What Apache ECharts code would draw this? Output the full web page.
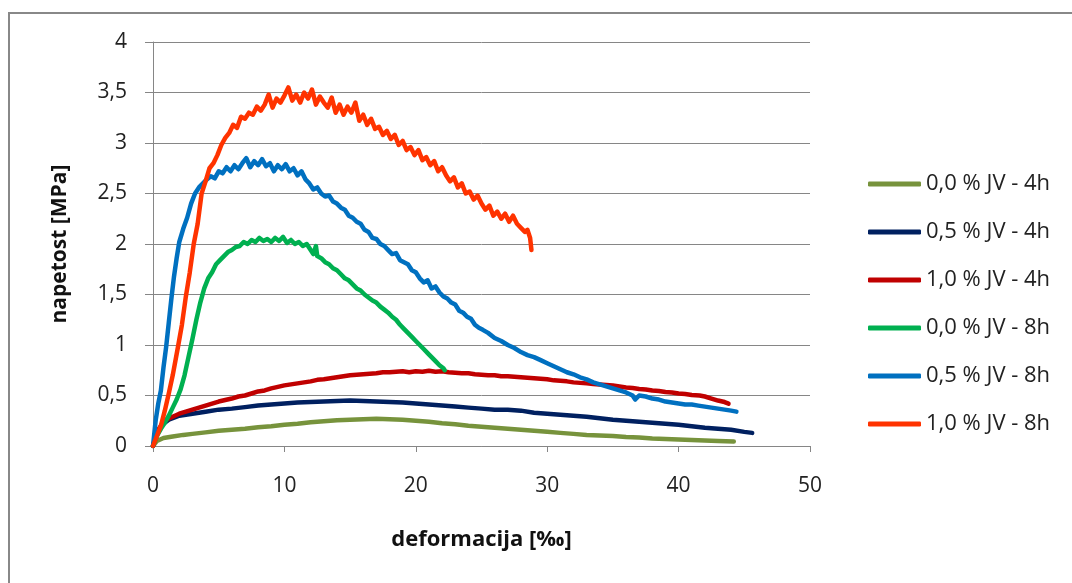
<!DOCTYPE html>
<html>
<head>
<meta charset="utf-8">
<script src="https://cdn.jsdelivr.net/npm/echarts@6/dist/echarts.min.js"></script>
<style>
html,body{margin:0;padding:0;background:#fff;}
#chart{width:1072px;height:583px;}
</style>
</head>
<body>
<div id="chart"></div>
<script>
// ---- Data (x = deformacija [‰], y = napetost [MPa]) ----
var seriesNames = ["0,0 % JV - 4h","0,5 % JV - 4h","1,0 % JV - 4h","0,0 % JV - 8h","0,5 % JV - 8h","1,0 % JV - 8h"];
var seriesColors = ["#77933C","#002060","#C00000","#00B050","#0070C0","#FF3300"];

var olive4h = [[0,0],[0.3,0.05],[0.8,0.08],[1.5,0.095],[2.3,0.11],[3,0.12],[4,0.135],[5,0.15],[6,0.16],[7,0.17],[8,0.185],[9,0.195],[10,0.21],[11,0.22],[12,0.235],[13,0.245],[14,0.255],[15,0.26],[16,0.265],[17,0.27],[18,0.265],[19,0.26],[20,0.25],[21,0.24],[22,0.225],[23,0.215],[24,0.2],[25,0.19],[26,0.18],[27,0.17],[28,0.16],[29,0.15],[30,0.14],[31,0.13],[32,0.12],[33,0.11],[34,0.105],[35,0.1],[36,0.09],[37,0.085],[38,0.075],[39,0.07],[40,0.065],[41,0.06],[42,0.055],[43,0.05],[44.2,0.045]];

var navy4h = [[0,0],[0.3,0.12],[0.7,0.21],[1.2,0.26],[2,0.3],[3,0.32],[4,0.34],[5,0.36],[6,0.37],[7,0.385],[8,0.4],[9,0.41],[10,0.42],[11,0.43],[12,0.435],[13,0.44],[14,0.445],[15,0.45],[16,0.445],[17,0.44],[18,0.435],[19,0.43],[20,0.42],[21,0.41],[22,0.4],[23,0.39],[24,0.38],[25,0.37],[26,0.36],[27,0.36],[28,0.35],[29,0.33],[30,0.32],[31,0.31],[32,0.3],[33,0.29],[34,0.275],[35,0.26],[36,0.25],[37,0.24],[38,0.23],[39,0.22],[40,0.21],[41,0.195],[42,0.18],[43,0.17],[44,0.16],[45,0.14],[45.6,0.13]];

var red4h = [[0,0],[0.2,0.1],[0.4,0.16],[0.7,0.22],[1,0.26],[1.5,0.29],[2,0.32],[2.5,0.34],[3,0.36],[3.5,0.38],[4,0.4],[4.5,0.42],[5,0.44],[5.5,0.455],[6,0.47],[6.5,0.49],[7,0.5],[7.5,0.52],[8,0.54],[8.5,0.55],[9,0.57],[9.5,0.585],[10,0.6],[10.5,0.61],[11,0.62],[11.5,0.63],[12,0.64],[12.5,0.655],[13,0.66],[13.5,0.67],[14,0.68],[14.5,0.69],[15,0.7],[15.5,0.705],[16,0.71],[16.5,0.715],[17,0.72],[17.5,0.73],[18,0.73],[18.5,0.735],[19,0.74],[19.5,0.73],[20,0.74],[20.5,0.735],[21,0.745],[21.5,0.735],[22,0.74],[22.5,0.73],[23,0.725],[23.5,0.72],[24,0.72],[24.5,0.71],[25,0.705],[25.5,0.7],[26,0.7],[26.5,0.69],[27,0.69],[27.5,0.685],[28,0.68],[28.5,0.675],[29,0.67],[29.5,0.665],[30,0.66],[30.5,0.65],[31,0.645],[31.5,0.64],[32,0.63],[32.5,0.625],[33,0.62],[33.5,0.615],[34,0.61],[34.5,0.605],[35,0.6],[35.5,0.59],[36,0.58],[36.5,0.575],[37,0.565],[37.5,0.56],[38,0.55],[38.5,0.545],[39,0.535],[39.5,0.53],[40,0.52],[40.5,0.515],[41,0.505],[41.6,0.5],[42,0.49],[42.5,0.47],[43,0.45],[43.5,0.435],[43.8,0.42]];

var green8h = [[0,0],[0.3,0.1],[0.6,0.17],[0.9,0.23],[1.2,0.3],[1.5,0.38],[1.8,0.46],[2.1,0.56],[2.4,0.7],[2.7,0.88],[3,1.06],[3.3,1.25],[3.6,1.42],[3.9,1.56],[4.2,1.66],[4.5,1.72],[4.8,1.8],[5.1,1.84],[5.4,1.88],[5.7,1.92],[6,1.94],[6.3,1.97],[6.6,1.98],[6.9,2.02],[7.2,2],[7.5,2.04],[7.8,2.02],[8.1,2.06],[8.4,2.03],[8.7,2.05],[9,2.02],[9.3,2.06],[9.6,2.03],[9.9,2.07],[10.2,2.01],[10.5,2.04],[10.8,2],[11.1,2.02],[11.4,1.98],[11.7,2],[12,1.94],[12.2,1.9],[12.4,1.98],[12.5,1.88],[12.8,1.86],[13.1,1.82],[13.4,1.8],[13.7,1.76],[14,1.74],[14.3,1.7],[14.6,1.66],[14.9,1.64],[15.2,1.6],[15.5,1.56],[15.8,1.54],[16.1,1.5],[16.4,1.47],[16.7,1.44],[17,1.42],[17.3,1.38],[17.6,1.35],[17.9,1.32],[18.2,1.28],[18.5,1.25],[18.8,1.2],[19.1,1.16],[19.4,1.12],[19.7,1.08],[20,1.04],[20.3,1],[20.6,0.96],[20.9,0.92],[21.2,0.88],[21.5,0.84],[21.8,0.8],[22.1,0.77],[22.2,0.75]];

var blue8h = [[0,0],[0.2,0.25],[0.4,0.42],[0.6,0.55],[0.8,0.78],[1,0.98],[1.2,1.22],[1.4,1.46],[1.6,1.68],[1.8,1.86],[2,2.02],[2.3,2.15],[2.6,2.26],[2.9,2.4],[3.2,2.5],[3.5,2.56],[3.8,2.6],[4.1,2.64],[4.4,2.67],[4.7,2.65],[5,2.72],[5.3,2.7],[5.6,2.76],[5.9,2.72],[6.2,2.78],[6.5,2.74],[6.8,2.8],[7.1,2.85],[7.4,2.76],[7.7,2.82],[8,2.78],[8.3,2.84],[8.6,2.77],[8.9,2.8],[9.2,2.72],[9.5,2.78],[9.8,2.74],[10.1,2.79],[10.4,2.72],[10.7,2.75],[11,2.68],[11.3,2.72],[11.6,2.64],[11.9,2.6],[12.2,2.54],[12.5,2.56],[12.8,2.5],[13.1,2.47],[13.4,2.48],[13.7,2.42],[14,2.4],[14.3,2.36],[14.6,2.34],[14.9,2.28],[15.2,2.26],[15.5,2.22],[15.8,2.2],[16.1,2.14],[16.4,2.12],[16.7,2.06],[17,2.05],[17.3,2],[17.6,1.98],[17.9,1.94],[18.2,1.9],[18.5,1.91],[18.8,1.84],[19.1,1.82],[19.4,1.8],[19.7,1.74],[20,1.72],[20.3,1.66],[20.6,1.62],[20.9,1.64],[21.2,1.56],[21.5,1.58],[21.8,1.52],[22.1,1.48],[22.4,1.46],[22.7,1.42],[23,1.4],[23.3,1.34],[23.6,1.32],[23.9,1.28],[24.2,1.26],[24.5,1.2],[24.8,1.17],[25.1,1.15],[25.5,1.12],[26,1.07],[26.5,1.04],[27,1],[27.5,0.97],[28,0.93],[28.5,0.9],[29,0.88],[29.5,0.85],[30,0.82],[30.5,0.79],[31,0.76],[31.5,0.73],[32,0.71],[32.5,0.68],[33,0.66],[33.5,0.63],[34,0.61],[34.5,0.59],[35,0.57],[35.5,0.55],[36,0.53],[36.5,0.5],[36.7,0.46],[37,0.5],[37.5,0.49],[38,0.47],[38.5,0.46],[39,0.44],[39.5,0.43],[40,0.42],[40.5,0.41],[41,0.41],[41.5,0.4],[42,0.39],[42.5,0.38],[43,0.37],[43.5,0.36],[44,0.35],[44.4,0.34]];

var orange8h = [[0,0],[0.3,0.1],[0.6,0.2],[0.9,0.35],[1.2,0.52],[1.5,0.7],[1.9,0.98],[2.2,1.2],[2.5,1.48],[2.8,1.72],[3.1,2],[3.4,2.2],[3.7,2.5],[4,2.62],[4.3,2.75],[4.6,2.8],[4.9,2.88],[5.2,2.98],[5.5,3.05],[5.8,3.1],[6.1,3.18],[6.4,3.15],[6.7,3.26],[7,3.24],[7.3,3.3],[7.6,3.28],[7.9,3.36],[8.2,3.32],[8.5,3.38],[8.8,3.48],[9.1,3.35],[9.4,3.44],[9.7,3.4],[10,3.47],[10.3,3.55],[10.6,3.42],[10.9,3.48],[11.2,3.4],[11.5,3.5],[11.8,3.44],[12.1,3.53],[12.4,3.38],[12.7,3.46],[13,3.4],[13.3,3.35],[13.6,3.45],[13.9,3.3],[14.2,3.38],[14.5,3.28],[14.8,3.36],[15.1,3.3],[15.4,3.4],[15.7,3.22],[16,3.28],[16.3,3.18],[16.6,3.24],[16.9,3.14],[17.2,3.16],[17.5,3.08],[17.8,3.12],[18.1,3.04],[18.4,3.08],[18.7,2.98],[19,3.02],[19.3,2.93],[19.6,2.96],[19.9,2.88],[20.2,2.93],[20.5,2.83],[20.8,2.86],[21.1,2.78],[21.4,2.82],[21.7,2.72],[22,2.76],[22.3,2.68],[22.6,2.62],[22.9,2.66],[23.2,2.56],[23.5,2.6],[23.8,2.5],[24.1,2.52],[24.4,2.44],[24.7,2.48],[25,2.4],[25.3,2.34],[25.6,2.38],[25.9,2.28],[26.2,2.32],[26.5,2.25],[26.8,2.3],[27.1,2.22],[27.4,2.28],[27.7,2.2],[28,2.16],[28.3,2.12],[28.5,2.14],[28.7,2.06],[28.8,1.94]];

var seriesData = [olive4h, navy4h, red4h, green8h, blue8h, orange8h];

var xAxisTitle = "deformacija [‰]";
var yAxisTitle = "napetost [MPa]";

// ---- Chart ----
var FONT = "'Open Sans', sans-serif";
var chart = echarts.init(document.getElementById('chart'), null, {renderer: 'canvas'});

var series = seriesData.map(function (d, i) {
  return {
    name: seriesNames[i],
    type: 'line',
    data: d,
    showSymbol: false,
    symbol: 'none',
    smooth: false,
    lineStyle: {width: 4.5, color: seriesColors[i], cap: 'round', join: 'round'},
    itemStyle: {color: seriesColors[i]},
    z: 2 + i
  };
});

chart.setOption({
  animation: false,
  backgroundColor: '#fff',
  graphic: [{
    type: 'rect',
    shape: {x: 9, y: 13, width: 1200, height: 700},
    style: {fill: 'none', stroke: '#888', lineWidth: 2},
    silent: true
  }],
  grid: {left: 153, right: 262, top: 42, bottom: 137, containLabel: false},
  legend: {
    orient: 'vertical',
    left: 863,
    top: 168,
    itemWidth: 53,
    itemHeight: 5,
    itemGap: 26,
    icon: 'roundRect',
    data: seriesNames,
    textStyle: {fontFamily: FONT, fontSize: 22, color: '#222', lineHeight: 22}
  },
  xAxis: {
    type: 'value',
    min: 0, max: 50, interval: 10,
    name: xAxisTitle,
    nameLocation: 'middle',
    nameGap: 83,
    nameTextStyle: {fontFamily: FONT, fontSize: 22, fontWeight: 'bold', color: '#111'},
    axisLine: {show: true, onZero: false, lineStyle: {color: '#868686', width: 1}},
    axisTick: {show: true, length: 6, inside: false, lineStyle: {color: '#868686'}},
    axisLabel: {fontFamily: FONT, fontSize: 21, color: '#222', margin: 30},
    splitLine: {show: false}
  },
  yAxis: {
    type: 'value',
    min: 0, max: 4, interval: 0.5,
    name: yAxisTitle,
    nameLocation: 'middle',
    nameGap: 82,
    nameRotate: 90,
    nameTextStyle: {fontFamily: FONT, fontSize: 21, fontWeight: 'bold', color: '#111'},
    axisLine: {show: true, lineStyle: {color: '#868686', width: 1}},
    axisTick: {show: true, length: 8, inside: false, lineStyle: {color: '#868686'}},
    axisLabel: {
      fontFamily: FONT, fontSize: 21, color: '#222', margin: 26,
      formatter: function (v) { return String(v).replace('.', ','); }
    },
    splitLine: {show: true, lineStyle: {color: '#868686', width: 1}}
  },
  series: series
});
</script>
</body>
</html>
